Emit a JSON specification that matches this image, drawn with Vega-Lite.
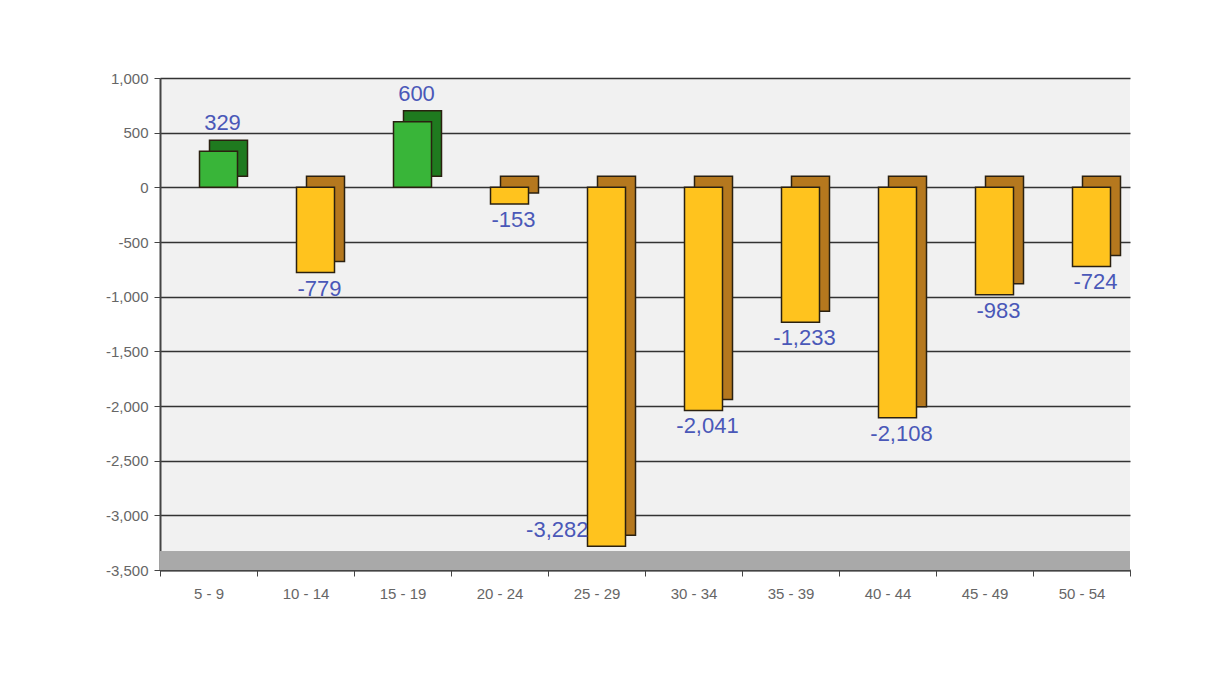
{
  "$schema": "https://vega.github.io/schema/vega-lite/v6.json",
  "autosize": {"type": "none"},
  "width": 970,
  "height": 492,
  "padding": {"left": 160, "top": 78, "right": 94, "bottom": 116},
  "background": "#ffffff",
  "config": {
    "view": {"fill": "#f1f1f1", "stroke": null},
    "font": "Liberation Sans",
    "locale": {"number": {"decimal": ".", "thousands": ",", "grouping": [3], "currency": ["$", ""], "minus": "-"}}
  },
  "data": {
    "values": [
      {"age": "5 - 9", "v": 329},
      {"age": "10 - 14", "v": -779},
      {"age": "15 - 19", "v": 600},
      {"age": "20 - 24", "v": -153},
      {"age": "25 - 29", "v": -3282},
      {"age": "30 - 34", "v": -2041},
      {"age": "35 - 39", "v": -1233},
      {"age": "40 - 44", "v": -2108},
      {"age": "45 - 49", "v": -983},
      {"age": "50 - 54", "v": -724}
    ]
  },
  "encoding": {
    "x": {
      "field": "age", "type": "nominal", "sort": null,
      "scale": {"paddingInner": 0, "paddingOuter": 0},
      "axis": {
        "title": null, "labelAngle": 0, "labelFontSize": 15, "labelColor": "#666666",
        "labelPadding": 10, "domainColor": "#444444", "domainWidth": 2,
        "tickColor": "#444444", "tickSize": 6, "tickBand": "extent",
        "labelFont": "Liberation Sans"
      }
    }
  },
  "layer": [
    {
      "mark": {"type": "rect", "color": "#a9a9a9"},
      "encoding": {
        "x": null,
        "y": {
          "datum": -3500, "type": "quantitative",
          "scale": {"domain": [-3500, 1000], "nice": false},
          "axis": {
            "title": null, "values": [1000, 500, 0, -500, -1000, -1500, -2000, -2500, -3000, -3500],
            "labelExpr": "format(datum.value, ',')", "labelFontSize": 15, "labelColor": "#666666", "labelPadding": 6,
            "domainColor": "#444444", "domainWidth": 2, "tickColor": "#444444", "tickSize": 6,
            "grid": true, "gridColor": "#333333", "gridWidth": 1.5,
            "labelFont": "Liberation Sans"
          }
        },
        "y2": {"datum": -3330}
      }
    },
    {
      "mark": {"type": "bar", "size": 38, "xOffset": 20, "yOffset": -11, "y2Offset": -11, "stroke": "#2a2010", "strokeWidth": 1.5},
      "encoding": {
        "y": {"field": "v", "type": "quantitative"},
        "y2": {"datum": 0},
        "color": {"condition": {"test": "datum.v > 0", "value": "#1f7a1f"}, "value": "#b5781e"}
      }
    },
    {
      "mark": {"type": "bar", "size": 38, "xOffset": 10, "stroke": "#2a2010", "strokeWidth": 1.5},
      "encoding": {
        "y": {"field": "v", "type": "quantitative"},
        "y2": {"datum": 0},
        "color": {"condition": {"test": "datum.v > 0", "value": "#39b539"}, "value": "#ffc31e"}
      }
    },
    {
      "transform": [{"filter": "datum.v > 0"}],
      "mark": {"type": "text", "fontSize": 22, "color": "#4a58b8", "baseline": "bottom", "dy": -16, "xOffset": 14},
      "encoding": {
        "y": {"field": "v", "type": "quantitative"},
        "text": {"field": "v", "type": "quantitative", "format": ","}
      }
    },
    {
      "transform": [{"filter": "datum.v <= 0 && datum.v > -3000"}],
      "mark": {"type": "text", "fontSize": 22, "color": "#4a58b8", "baseline": "top", "dy": 6, "xOffset": 14},
      "encoding": {
        "y": {"field": "v", "type": "quantitative"},
        "text": {"field": "v", "type": "quantitative", "format": ","}
      }
    },
    {
      "transform": [{"filter": "datum.v <= -3000"}],
      "mark": {"type": "text", "fontSize": 22, "color": "#4a58b8", "baseline": "bottom", "align": "right", "dy": -4, "xOffset": -8},
      "encoding": {
        "y": {"field": "v", "type": "quantitative"},
        "text": {"field": "v", "type": "quantitative", "format": ","}
      }
    }
  ]
}
